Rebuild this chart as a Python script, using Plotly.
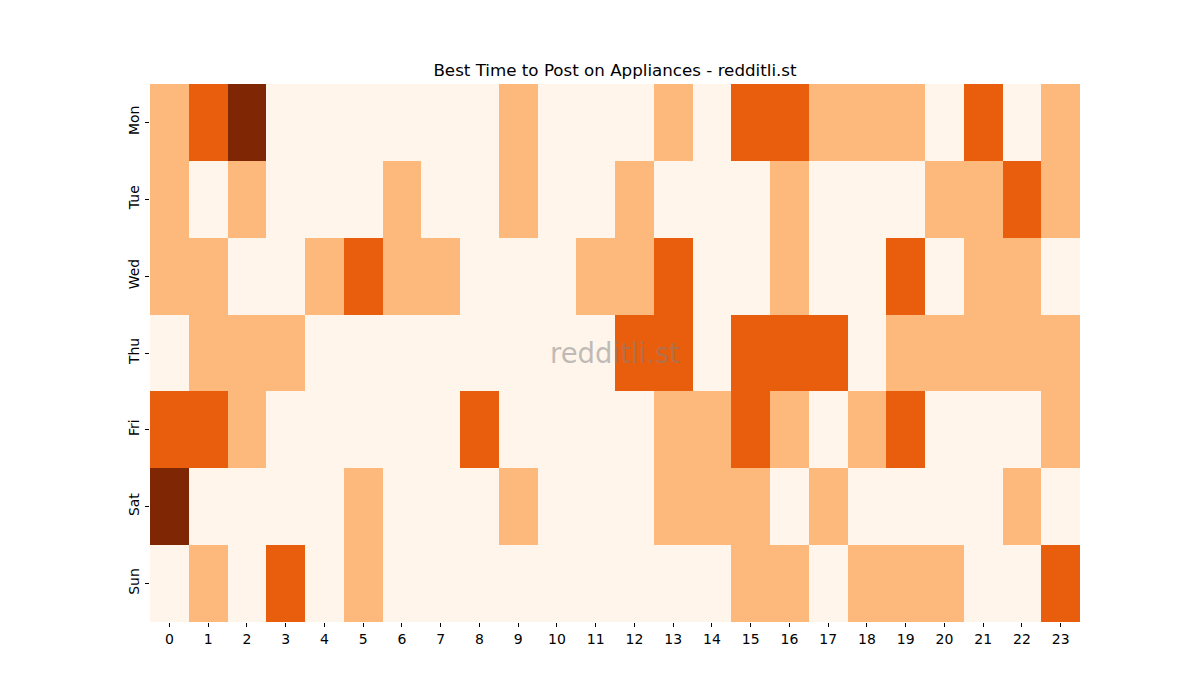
import plotly.graph_objects as go

days = ["Mon", "Tue", "Wed", "Thu", "Fri", "Sat", "Sun"]
hours = [str(h) for h in range(24)]

mon = [1,2,3,0,0,0,0,0,0,1,0,0,0,1,0,2,2,1,1,1,0,2,0,1]
tue = [1,0,1,0,0,0,1,0,0,1,0,0,1,0,0,0,1,0,0,0,1,1,2,1]
wed = [1,1,0,0,1,2,1,1,0,0,0,1,1,2,0,0,1,0,0,2,0,1,1,0]
thu = [0,1,1,1,0,0,0,0,0,0,0,0,2,2,0,2,2,2,0,1,1,1,1,1]
fri = [2,2,1,0,0,0,0,0,2,0,0,0,0,1,1,2,1,0,1,2,0,0,0,1]
sat = [3,0,0,0,0,1,0,0,0,1,0,0,0,1,1,1,0,1,0,0,0,0,1,0]
sun = [0,1,0,2,0,1,0,0,0,0,0,0,0,0,0,1,1,0,1,1,1,0,0,2]

z = [mon, tue, wed, thu, fri, sat, sun]

fig = go.Figure(go.Heatmap(
    z=z, x=hours, y=days, zmin=-0.5, zmax=3.5,
    colorscale=[[0.0, "#fff5eb"], [0.25, "#fff5eb"], [0.25, "#fdb87c"], [0.5, "#fdb87c"],
                [0.5, "#e95e0d"], [0.75, "#e95e0d"], [0.75, "#7f2704"], [1.0, "#7f2704"]],
    showscale=False, xgap=0, ygap=0,
))

fig.update_layout(
    width=1200, height=700,
    margin=dict(l=142, r=128, t=76, b=86),
    paper_bgcolor="white", plot_bgcolor="white",
    font=dict(family="DejaVu Sans", size=14, color="black"),
    title=dict(text="Best Time to Post on Appliances - redditli.st", x=607/1200, xanchor="center",
               y=1-62/700, yanchor="middle", font=dict(size=16.7, family="DejaVu Sans", color="black")),
    xaxis=dict(showgrid=False, zeroline=False, ticks="outside", ticklen=4, tickcolor="black",
               tickfont=dict(size=14), showline=False),
    yaxis=dict(showgrid=False, zeroline=False, ticks="outside", ticklen=4, tickcolor="black",
               autorange="reversed", tickangle=-90, tickfont=dict(size=14), showline=False),
    annotations=[dict(text="redditli.st", x=0.5, y=0.5, xref="paper", yref="paper",
                      showarrow=False, font=dict(size=27.5, family="DejaVu Sans", color="rgba(128,128,128,0.5)"))],
)

fig.write_html("out.html")
